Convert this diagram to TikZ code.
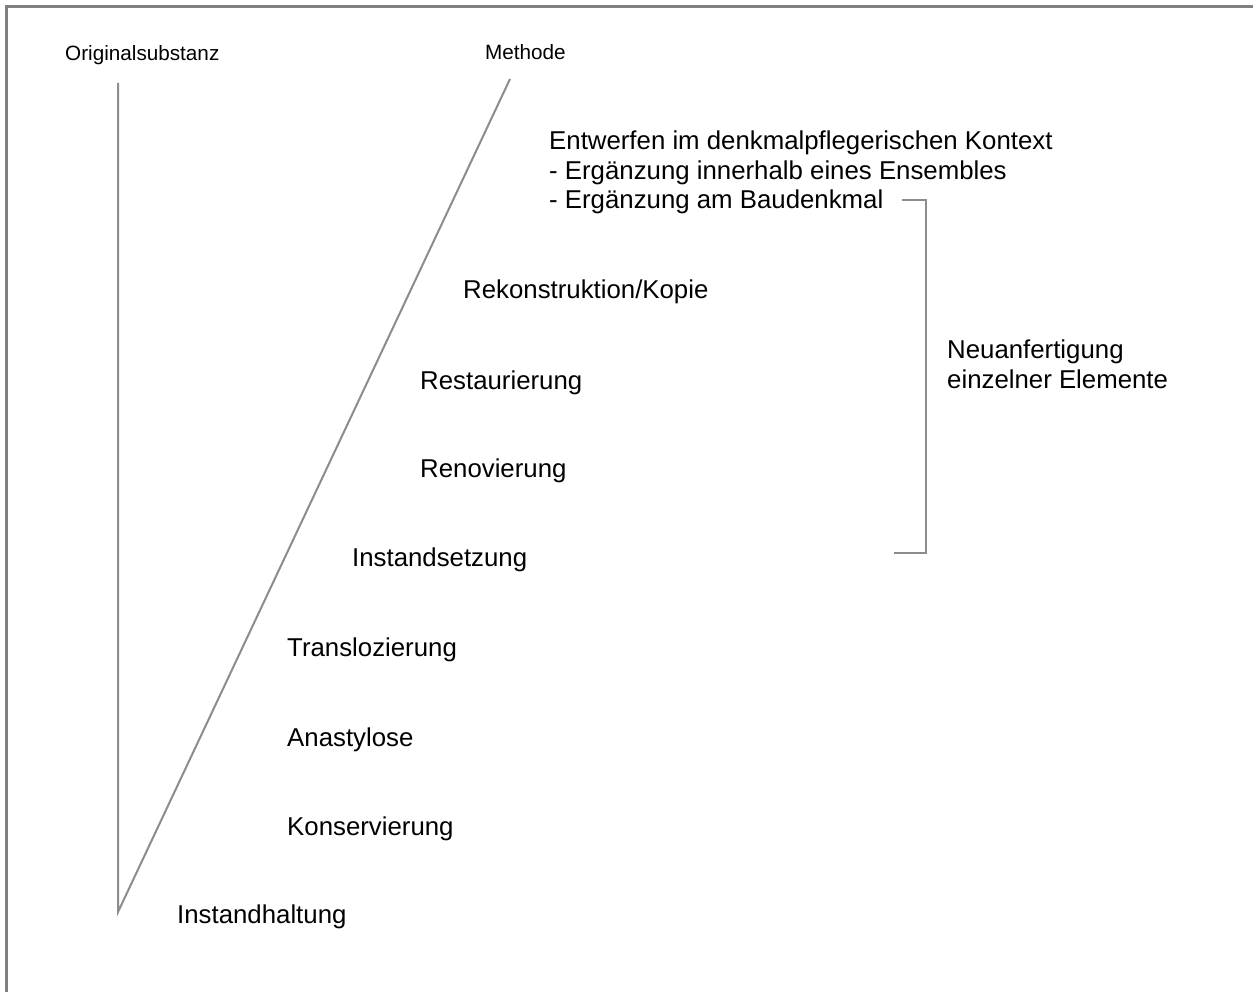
\documentclass[tikz,border=0pt]{standalone}
\usepackage{fontspec}
\setmainfont{Liberation Sans}
\usepackage{xcolor}
\definecolor{rahmen}{HTML}{808080}
\definecolor{linie}{HTML}{8C8C8C}

\begin{document}
\begin{tikzpicture}[x=1pt, y=-1pt,
	stufe/.style={anchor=base west, inner sep=0pt, font=\fontsize{25.8}{29.5}\selectfont, align=left},
	kopf/.style={anchor=base west, inner sep=0pt, font=\fontsize{20.7}{24}\selectfont},
	strich/.style={draw=linie, line width=2pt}]
	\useasboundingbox (0,0) rectangle (1253,992);
	% Rahmen
	\draw [rahmen, line width=2.5pt] (6.5,992) -- (6.5,6.5) -- (1253,6.5);
	% Achsen
	\coordinate (O) at (118,83);
	\coordinate (M) at (510,79);
	\coordinate (U) at (118,912);
	\draw [strich] (O) -- (U) -- (M);
	\node [kopf] (orig) at (65,61) {Originalsubstanz};
	\node [kopf] (meth) at (485,60) {Methode};
	% Stufen
	\node [stufe] (erh) at (177,923) {Instandhaltung};
	\node [stufe] (kons) at (287,835) {Konservierung};
	\node [stufe] (ana) at (287,746) {Anastylose};
	\node [stufe] (trans) at (287,656) {Translozierung};
	\node [stufe] (setz) at (352,566) {Instandsetzung};
	\node [stufe] (reno) at (420,477) {Renovierung};
	\node [stufe] (resta) at (420,389) {Restaurierung};
	\node [stufe] (rekon) at (463,299) {Rekonstruktion/Kopie};
	% base liegt bei mehrzeiligen Knoten in der Mitte
	\node [stufe] (entw) at (549,209) {Entwerfen im denkmalpflegerischen Kontext\\
		- Ergänzung innerhalb eines Ensembles\\
		- Ergänzung am Baudenkmal};
	% Klammer
	\coordinate (KO) at (902,200);
	\coordinate (KU) at (894,553);
	\draw [strich] (KO) -- (926,200) -- (926,553) -- (KU);
	\node [stufe] (neu) at (947,388) {Neuanfertigung\\einzelner Elemente};
\end{tikzpicture}
\end{document}
